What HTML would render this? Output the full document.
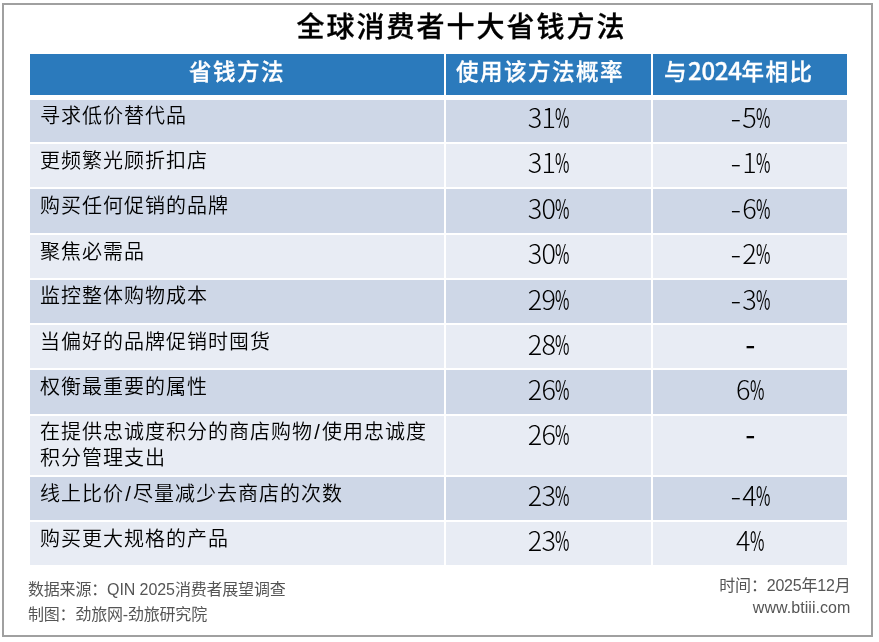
<!DOCTYPE html>
<html lang="zh-CN">
<head>
<meta charset="utf-8">
<title>全球消费者十大省钱方法</title>
<style>
html,body{margin:0;padding:0;background:#fff;}
body{width:879px;height:642px;position:relative;overflow:hidden;font-family:"Liberation Sans","Noto Sans CJK SC",sans-serif;color:#111;}
.frame{position:absolute;left:2px;top:3px;width:867px;height:630px;border:2px solid #a0a0a0;box-sizing:content-box;}
.title{position:absolute;left:0;top:8px;width:923px;text-align:center;font-size:28px;letter-spacing:2px;line-height:40px;font-weight:500;color:#000;-webkit-text-stroke:0.3px #000;white-space:nowrap;}
.c{position:absolute;box-sizing:border-box;}
.hd{background:#2b7abc;color:#fff;font-weight:500;-webkit-text-stroke:0.3px #fff;font-size:22.5px;letter-spacing:1.5px;line-height:38px;white-space:nowrap;}
.hd .d{font-family:"Noto Sans CJK SC","Liberation Sans",sans-serif;font-size:24px;letter-spacing:-0.3px;line-height:0;}
.b1{background:#ced7e7;}
.b2{background:#e8ecf4;}
.t{font-size:20px;letter-spacing:1px;line-height:25.6px;padding:0 0 0 10px;font-weight:350;color:#000;white-space:nowrap;}
.sl{margin:0 1.2px;}
.n{font-family:"Noto Sans CJK SC","Liberation Sans",sans-serif;font-size:27px;line-height:32px;text-align:center;font-weight:300;color:#000;white-space:nowrap;letter-spacing:-0.6px;}
.pc{display:inline-block;width:14px;transform:scaleX(0.58);transform-origin:0 50%;text-align:left;font-weight:400;letter-spacing:0;}
.mn{display:inline-block;width:12.5px;text-align:center;transform:translateX(-0.7px) scaleX(1.18);}
.mn.solo{transform:translateX(-0.3px) scaleX(1.05);font-weight:500;}
.ft{position:absolute;font-size:16px;line-height:24.6px;color:#555;white-space:nowrap;letter-spacing:-0.2px;}
.ft .l{letter-spacing:-0.08px;}
</style>
</head>
<body>
<div class="frame"></div>
<div class="title">全球消费者十大省钱方法</div>
<div class="c hd" style="left:30px;top:54px;width:414px;height:41px;text-align:center;">省钱方法</div>
<div class="c hd" style="left:446px;top:54px;width:205px;height:41px;padding-left:10px;">使用该方法概率</div>
<div class="c hd" style="left:653px;top:54px;width:194px;height:41px;padding-left:11px;">与<span class="d">2024</span>年相比</div>
<div class="c b1 t" style="left:30px;top:100px;width:414px;height:42px;padding-top:4px;">寻求低价替代品</div>
<div class="c b1 n" style="left:446px;top:100px;width:205px;height:42px;padding-top:1px;">31<span class="pc">%</span></div>
<div class="c b1 n" style="left:653px;top:100px;width:194px;height:42px;padding-top:1px;"><span class="mn">-</span>5<span class="pc">%</span></div>
<div class="c b2 t" style="left:30px;top:144px;width:414px;height:43px;padding-top:5px;">更频繁光顾折扣店</div>
<div class="c b2 n" style="left:446px;top:144px;width:205px;height:43px;padding-top:2px;">31<span class="pc">%</span></div>
<div class="c b2 n" style="left:653px;top:144px;width:194px;height:43px;padding-top:2px;"><span class="mn">-</span>1<span class="pc">%</span></div>
<div class="c b1 t" style="left:30px;top:189px;width:414px;height:44px;padding-top:5px;">购买任何促销的品牌</div>
<div class="c b1 n" style="left:446px;top:189px;width:205px;height:44px;padding-top:3px;">30<span class="pc">%</span></div>
<div class="c b1 n" style="left:653px;top:189px;width:194px;height:44px;padding-top:3px;"><span class="mn">-</span>6<span class="pc">%</span></div>
<div class="c b2 t" style="left:30px;top:235px;width:414px;height:43px;padding-top:5px;">聚焦必需品</div>
<div class="c b2 n" style="left:446px;top:235px;width:205px;height:43px;padding-top:2px;">30<span class="pc">%</span></div>
<div class="c b2 n" style="left:653px;top:235px;width:194px;height:43px;padding-top:2px;"><span class="mn">-</span>2<span class="pc">%</span></div>
<div class="c b1 t" style="left:30px;top:280px;width:414px;height:43px;padding-top:4px;">监控整体购物成本</div>
<div class="c b1 n" style="left:446px;top:280px;width:205px;height:43px;padding-top:3px;">29<span class="pc">%</span></div>
<div class="c b1 n" style="left:653px;top:280px;width:194px;height:43px;padding-top:3px;"><span class="mn">-</span>3<span class="pc">%</span></div>
<div class="c b2 t" style="left:30px;top:325px;width:414px;height:43px;padding-top:5px;">当偏好的品牌促销时囤货</div>
<div class="c b2 n" style="left:446px;top:325px;width:205px;height:43px;padding-top:3px;">28<span class="pc">%</span></div>
<div class="c b2 n" style="left:653px;top:325px;width:194px;height:43px;padding-top:3px;"><span class="mn solo">-</span></div>
<div class="c b1 t" style="left:30px;top:370px;width:414px;height:44px;padding-top:5px;">权衡最重要的属性</div>
<div class="c b1 n" style="left:446px;top:370px;width:205px;height:44px;padding-top:3px;">26<span class="pc">%</span></div>
<div class="c b1 n" style="left:653px;top:370px;width:194px;height:44px;padding-top:3px;">6<span class="pc">%</span></div>
<div class="c b2 t" style="left:30px;top:416px;width:414px;height:59px;padding-top:4px;">在提供忠诚度积分的商店购物<span class="sl">/</span>使用忠诚度<br>积分管理支出</div>
<div class="c b2 n" style="left:446px;top:416px;width:205px;height:59px;padding-top:2px;">26<span class="pc">%</span></div>
<div class="c b2 n" style="left:653px;top:416px;width:194px;height:59px;padding-top:2px;"><span class="mn solo">-</span></div>
<div class="c b1 t" style="left:30px;top:477px;width:414px;height:43px;padding-top:5px;">线上比价<span class="sl">/</span>尽量减少去商店的次数</div>
<div class="c b1 n" style="left:446px;top:477px;width:205px;height:43px;padding-top:2px;">23<span class="pc">%</span></div>
<div class="c b1 n" style="left:653px;top:477px;width:194px;height:43px;padding-top:2px;"><span class="mn">-</span>4<span class="pc">%</span></div>
<div class="c b2 t" style="left:30px;top:522px;width:414px;height:43px;padding-top:5px;">购买更大规格的产品</div>
<div class="c b2 n" style="left:446px;top:522px;width:205px;height:43px;padding-top:2px;">23<span class="pc">%</span></div>
<div class="c b2 n" style="left:653px;top:522px;width:194px;height:43px;padding-top:2px;">4<span class="pc">%</span></div>
<div class="ft" style="left:28px;top:578.2px;">数据来源：<span class="l">QIN 2025</span>消费者展望调查<br>制图：劲旅网-劲旅研究院</div>
<div class="ft" style="right:28.5px;top:574.5px;line-height:22.5px;">时间：2025年12月</div>
<div class="ft" style="right:28.6px;top:596.6px;line-height:22.5px;letter-spacing:0.05px;">www.btiii.com</div>
</body>
</html>
